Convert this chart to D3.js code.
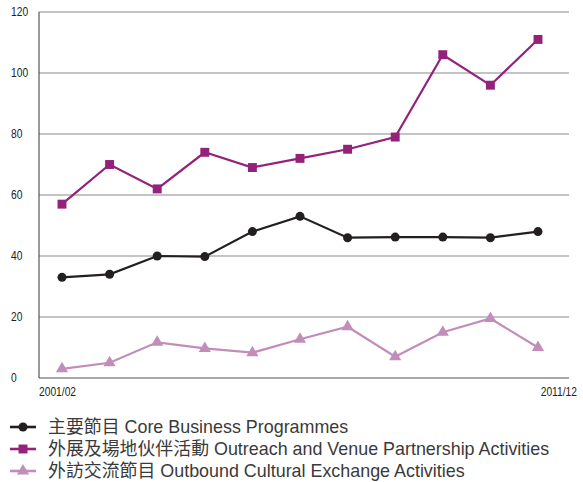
<!DOCTYPE html>
<html>
<head>
<meta charset="utf-8">
<script src="https://cdn.jsdelivr.net/npm/d3@7"></script>
<style>
  html, body { margin: 0; padding: 0; background: #fff; }
  svg { display: block; }
  .tick-label { font-family: "Liberation Sans", sans-serif; font-size: 12.5px; fill: #222; }
  .legend-label { font-family: "Liberation Sans", "Noto Sans CJK TC", sans-serif; font-size: 17.9px; fill: #3a3a3a; }
</style>
</head>
<body>
<svg id="chart" width="583" height="482"></svg>
<script>
// Years covered (fiscal years)
const years = ["2001/02","2002/03","2003/04","2004/05","2005/06","2006/07","2007/08","2008/09","2009/10","2010/11","2011/12"];
const xTickLabels = ["2001/02", "2011/12"];
const yTicks = [0, 20, 40, 60, 80, 100, 120];

// Series values
const coreValues     = [33, 34, 40, 39.8, 48, 53, 46, 46.2, 46.2, 46, 48];
const outreachValues = [57, 70, 62, 74, 69, 72, 75, 79, 106, 96, 111];
const outboundValues = [3, 5, 11.7, 9.7, 8.3, 12.7, 16.8, 7, 15, 19.5, 10];

const seriesNames = [
  "主要節目 Core Business Programmes",
  "外展及場地伙伴活動 Outreach and Venue Partnership Activities",
  "外訪交流節目 Outbound Cultural Exchange Activities"
];
const seriesColors = ["#231f20", "#93237a", "#c28db9"];
const seriesShapes = [d3.symbolCircle, d3.symbolSquare, d3.symbolTriangle];
const seriesSizes = [64, 80, 64];

const series = [coreValues, outreachValues, outboundValues].map((vals, i) => ({
  name: seriesNames[i], values: vals, color: seriesColors[i], shape: seriesShapes[i], size: seriesSizes[i]
}));

const svg = d3.select("#chart");
const plot = { left: 39, right: 569, top: 12, bottom: 378 };

const x = d3.scalePoint().domain(years).range([62, 538]);
const y = d3.scaleLinear().domain([0, 120]).range([plot.bottom, plot.top]);

// Condensed tick text: regular face squeezed horizontally around its anchor
const narrow = 0.82;
function tickText(px, py, label, anchor) {
  svg.append("text")
    .attr("class", "tick-label")
    .attr("transform", `translate(${px},${py}) scale(${narrow},1)`)
    .attr("text-anchor", anchor || "start")
    .attr("dominant-baseline", "middle")
    .text(label);
}

// Horizontal gridlines
svg.append("g").selectAll("line")
  .data(yTicks.filter(t => t > 0))
  .join("line")
  .attr("x1", plot.left).attr("x2", plot.right)
  .attr("y1", d => y(d)).attr("y2", d => y(d))
  .attr("stroke", "#8a8a8a").attr("stroke-width", 1.2);

// Axis lines
svg.append("line").attr("x1", plot.left).attr("x2", plot.left)
  .attr("y1", y(120)).attr("y2", plot.bottom)
  .attr("stroke", "#555").attr("stroke-width", 1.2);
svg.append("line").attr("x1", plot.left).attr("x2", plot.right)
  .attr("y1", plot.bottom).attr("y2", plot.bottom)
  .attr("stroke", "#555").attr("stroke-width", 1.2);

// Y tick labels
yTicks.forEach(t => tickText(11, y(t) + 1, t));

// X tick labels (first and last year)
tickText(plot.left, 393, xTickLabels[0]);
tickText(577, 393, xTickLabels[1], "end");

// Lines and markers
const line = d3.line().x((d, i) => x(years[i])).y(d => y(d));

series.forEach(s => {
  const g = svg.append("g");
  g.append("path")
    .attr("d", line(s.values))
    .attr("fill", "none")
    .attr("stroke", s.color)
    .attr("stroke-width", 2.2);
  g.selectAll("path.marker")
    .data(s.values)
    .join("path")
    .attr("class", "marker")
    .attr("transform", (d, i) => `translate(${x(years[i])},${y(d)})`)
    .attr("d", d3.symbol().type(s.shape).size(s.size))
    .attr("fill", s.color);
});

// Legend
const legend = svg.append("g");
series.forEach((s, i) => {
  const ly = 427 + i * 22;
  legend.append("line")
    .attr("x1", 10).attr("x2", 36).attr("y1", ly).attr("y2", ly)
    .attr("stroke", s.color).attr("stroke-width", 2.6);
  legend.append("path")
    .attr("transform", `translate(23,${ly})`)
    .attr("d", d3.symbol().type(s.shape).size(s.size))
    .attr("fill", s.color);
  legend.append("text")
    .attr("class", "legend-label")
    .attr("x", 48).attr("y", ly + 6)
    .text(s.name);
});
</script>
</body>
</html>
